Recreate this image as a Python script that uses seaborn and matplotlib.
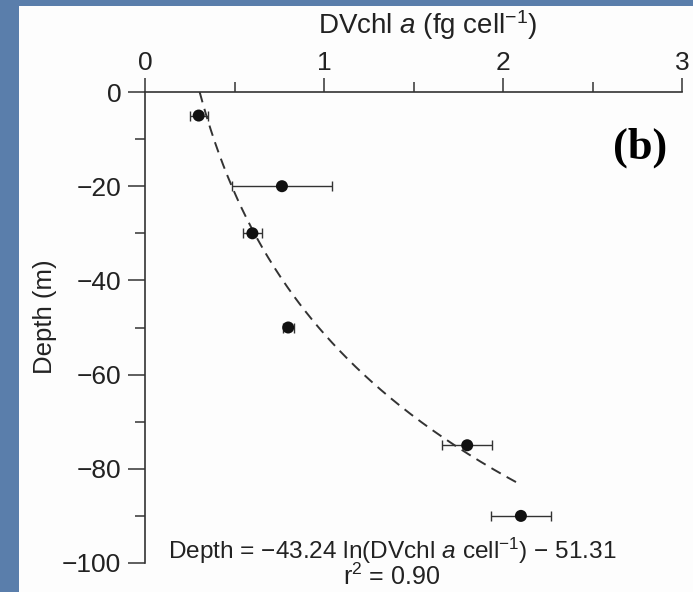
import numpy as np
import matplotlib
matplotlib.use("Agg")
import matplotlib.pyplot as plt
import seaborn as sns
from matplotlib.patches import Rectangle
from matplotlib.ticker import MultipleLocator, FixedLocator

# ---- data ----
depth = [-5, -20, -30, -50, -75, -90]
dvchl = [0.30, 0.765, 0.60, 0.80, 1.80, 2.10]
dvchl_err = [0.05, 0.28, 0.053, 0.03, 0.14, 0.167]

fit_slope = -43.24      # Depth = slope * ln(DVchl) + intercept
fit_intercept = -51.31
fit_depth_top = 0
fit_depth_bottom = -83.5

xticks = [0, 1, 2, 3]
yticks = [0, -20, -40, -60, -80, -100]

# ---- style ----
sns.set_theme(style="ticks")
plt.rcParams["font.family"] = ["Liberation Sans", "DejaVu Sans"]
plt.rcParams["mathtext.fontset"] = "custom"
plt.rcParams["mathtext.rm"] = "Liberation Sans"
plt.rcParams["mathtext.it"] = "Liberation Sans:italic"
plt.rcParams["mathtext.sf"] = "Liberation Sans"
plt.rcParams["axes.unicode_minus"] = True

W, H = 693, 592
fig = plt.figure(figsize=(W / 100, H / 100), dpi=100, facecolor="#5A7EAB")
fig.patches.append(Rectangle((19 / W, 0), 1 - 19 / W, 1 - 6 / H,
                             transform=fig.transFigure, facecolor="#FDFDFD",
                             edgecolor="none", zorder=-10))

ax = fig.add_axes([145 / W, 29 / H, 537 / W, 471 / H])
ax.set_facecolor("none")
ax.set_zorder(1)

ink = "#222222"

# fitted curve
fit_d = np.linspace(fit_depth_top, fit_depth_bottom, 200)
fit_x = np.exp((fit_d - fit_intercept) / fit_slope)
sns.lineplot(x=fit_x, y=fit_d, ax=ax, color="#333333", lw=1.4,
             linestyle=(0, (5.5, 3.5)), sort=False, estimator=None, zorder=2)

# error bars + points
ax.errorbar(dvchl, depth, xerr=dvchl_err, fmt="none", ecolor="#333333",
            elinewidth=1.0, capsize=3.5, capthick=1.0, zorder=3)
sns.scatterplot(x=dvchl, y=depth, ax=ax, color="#111111", s=75,
                edgecolor="none", zorder=4)

ax.set_xlim(0, 3)
ax.set_ylim(-100, 0)

for s in ["right", "bottom"]:
    ax.spines[s].set_visible(False)
for s in ["left", "top"]:
    ax.spines[s].set_color("#333333")
    ax.spines[s].set_linewidth(1.2)

ax.xaxis.set_major_locator(FixedLocator(xticks))
ax.xaxis.set_minor_locator(MultipleLocator(0.5))
ax.yaxis.set_major_locator(FixedLocator(yticks))
ax.yaxis.set_minor_locator(MultipleLocator(10))
ax.xaxis.tick_top()
ax.tick_params(axis="both", which="major", direction="out", length=12,
               width=1.1, color="#333333", labelsize=19, labelcolor=ink, pad=5)
ax.tick_params(axis="x", which="major", length=10, pad=2)
ax.tick_params(axis="both", which="minor", direction="out", length=7,
               width=1.1, color="#333333")
ax.tick_params(axis="x", which="both", top=True, bottom=False,
               labeltop=True, labelbottom=False)
ax.tick_params(axis="y", which="both", left=True, right=False)
ax.set_xticklabels([str(t) for t in xticks])
ax.set_yticklabels([f"{t}".replace("-", "\u2212") for t in yticks])
ax.set_xlabel("")
ax.set_ylabel("")

# axis titles
fig.text(428 / W, 1 - 34 / H, r"DVchl $a$ (fg cell$^{-1}$)", ha="center",
         va="baseline", fontsize=20, color=ink)
fig.text(45 / W, 1 - 317 / H, "Depth (m)", rotation=90, ha="center",
         va="center", fontsize=18.5, color=ink)

# equation
fig.text(392 / W, 1 - 559 / H,
         "Depth = \u221243.24 ln(DVchl $a$ cell$^{-1}$) \u2212 51.31",
         ha="center", va="baseline", fontsize=17.6, color=ink)
fig.text(392 / W, 1 - 585 / H, "r$^{2}$ = 0.90", ha="center",
         va="baseline", fontsize=18, color=ink)

# panel letter
fig.text(640 / W, 1 - 148 / H, "(b)", ha="center", va="center",
         fontsize=32, fontweight="bold", family="Liberation Serif",
         color="#000000")

fig.savefig("out.png", dpi=100, facecolor=fig.get_facecolor())
